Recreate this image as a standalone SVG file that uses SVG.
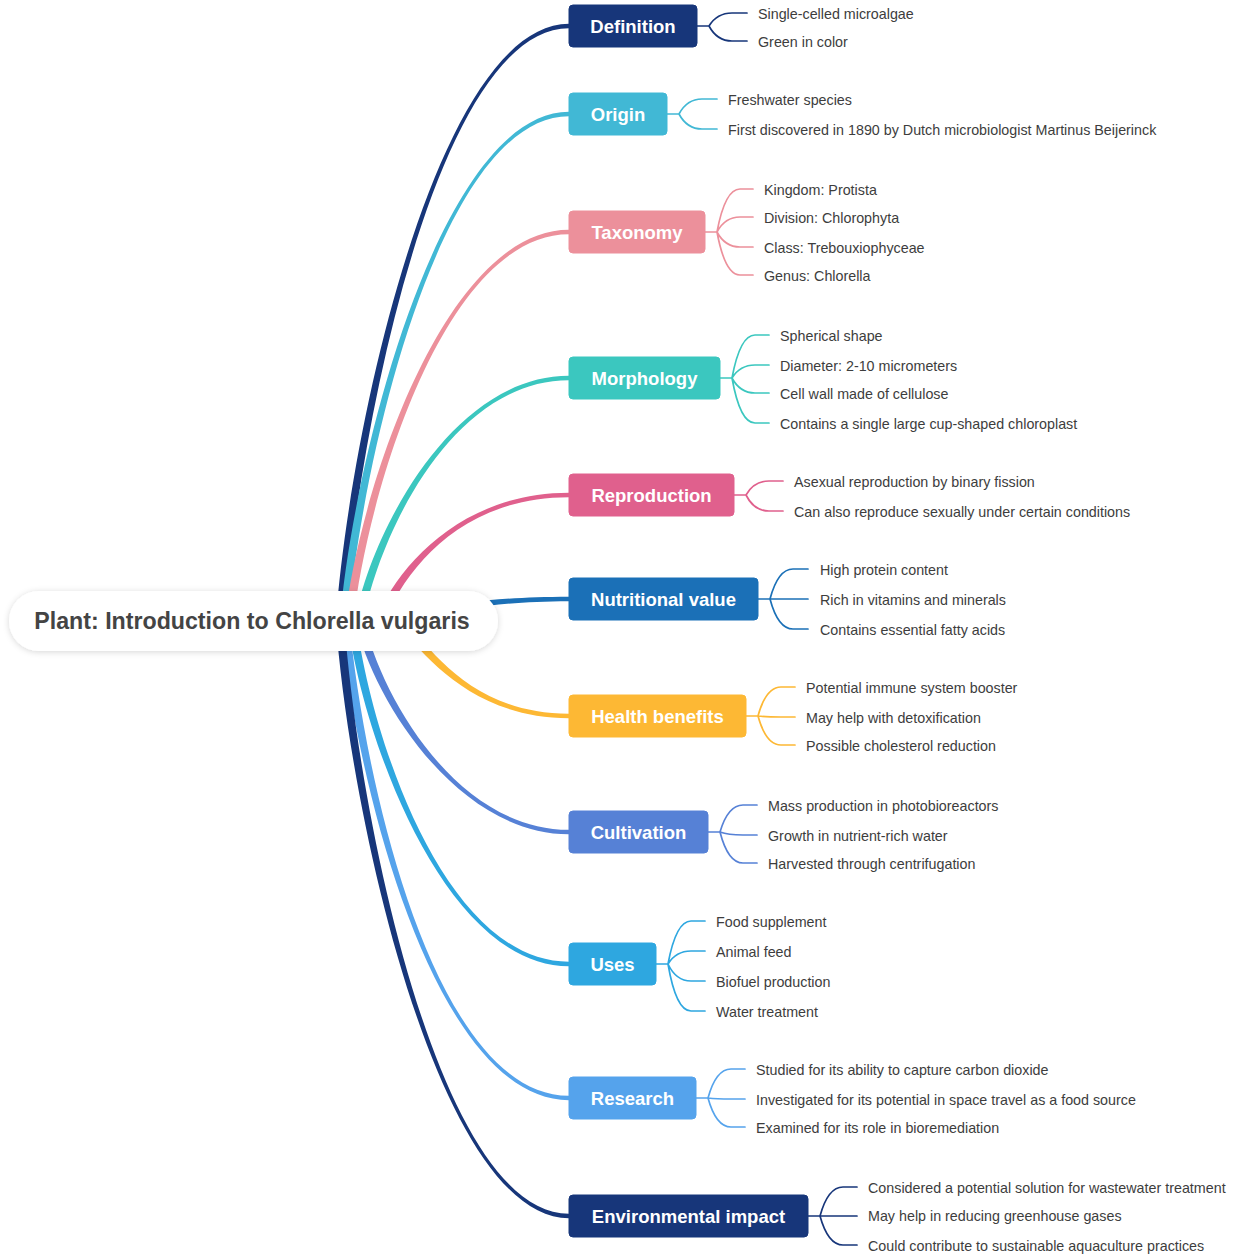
<svg xmlns="http://www.w3.org/2000/svg" width="1240" height="1256" viewBox="0 0 1240 1256">
<defs>
<style>
text{font-family:"Liberation Sans",Arial,Helvetica,sans-serif}
.leaf{font-size:14.3px;fill:#3d3d3d}
.lbl{font-size:18.5px;font-weight:bold;fill:#fff;text-anchor:middle}
.sub{fill:none;stroke-width:1.7;stroke-linecap:round}
.c1{fill:#17367a;stroke:#17367a}.c2{fill:#41b8d5;stroke:#41b8d5}.c3{fill:#ec909b;stroke:#ec909b}
.c4{fill:#3bc7bf;stroke:#3bc7bf}.c5{fill:#e0608d;stroke:#e0608d}.c6{fill:#1b70b7;stroke:#1b70b7}
.c7{fill:#fdb834;stroke:#fdb834}.c8{fill:#5681d6;stroke:#5681d6}.c9{fill:#2ea7e0;stroke:#2ea7e0}
.c10{fill:#55a3ec;stroke:#55a3ec}
.main path{stroke:none}
.sub.c1,.sub.c2,.sub.c3,.sub.c4,.sub.c5,.sub.c6,.sub.c7,.sub.c8,.sub.c9,.sub.c10{fill:none}
</style>
<filter id="sh" x="-10%" y="-40%" width="120%" height="180%">
<feDropShadow dx="0" dy="1" stdDeviation="3" flood-color="#000" flood-opacity="0.16"/>
</filter>
</defs>
<rect width="1240" height="1256" fill="#fff"/>
<g id="connectors">
<g class="main">
<path class="c1" d="M344.2 621.3C359.2 419.3 440 28.2 569 28.2L569 23.8C440 23.8 350.8 418.7 335.8 620.7Z"/>
<path class="c2" d="M348.2 621.4C363.2 449.4 443 116.2 569 116.2L569 111.8C443 111.8 354.8 448.6 339.8 620.6Z"/>
<path class="c3" d="M353.2 621.5C368.2 489.5 446 234.2 569 234.2L569 229.8C446 229.8 359.8 488.5 344.8 620.5Z"/>
<path class="c4" d="M363.1 621.75C378.1 538.75 450 380.2 569 380.2L569 375.8C450 375.8 369.9 537.25 354.9 620.25Z"/>
<path class="c5" d="M383.9 622.5C403.9 571.5 460 497.2 569 497.2L569 492.8C460 492.8 396.1 568.5 376.1 619.5Z"/>
<path class="c6" d="M380.6 625.2C420.6 619.2 470 601.2 569 601.2L569 596.8C470 596.8 419.4 610.8 379.4 616.8Z"/>
<path class="c7" d="M396.9 623.9C421.9 650.9 470 718.2 569 718.2L569 713.8C470 713.8 428.1 645.2 403.1 618.2Z"/>
<path class="c8" d="M355.9 621.9C370.9 693.9 455 834.2 569 834.2L569 829.8C455 829.8 379.1 692.1 364.1 620.1Z"/>
<path class="c9" d="M347.8 621.5C362.8 738.5 445 966.2 569 966.2L569 961.8C445 961.8 371.2 737.5 356.2 620.5Z"/>
<path class="c10" d="M340.8 621.4C355.8 783.4 435 1100.2 569 1100.2L569 1095.8C435 1095.8 364.2 782.6 349.2 620.6Z"/>
<path class="c1" d="M335.8 621.3C350.8 823.3 440 1218.2 569 1218.2L569 1213.8C440 1213.8 359.2 822.7 344.2 620.7Z"/>
</g>
<path class="sub c1" d="M697 26H709Q717 13 732 13H747M697 26H709Q717 41 732 41H747"/>
<path class="sub c2" d="M667 114H679Q687 99 702 99H717M667 114H679Q687 129 702 129H717"/>
<path class="sub c3" d="M705 232H717Q725 189 740 189H753M705 232H717Q725 217 740 217H753M705 232H717Q725 247 740 247H753M705 232H717Q725 275 740 275H753"/>
<path class="sub c4" d="M720 378H732Q740 335 755 335H769M720 378H732Q740 365 755 365H769M720 378H732Q740 393 755 393H769M720 378H732Q740 423 755 423H769"/>
<path class="sub c5" d="M734 495H746Q754 481 769 481H783M734 495H746Q754 511 769 511H783"/>
<path class="sub c6" d="M758 599H770Q778 569 793 569H808M758 599H808M770 599Q778 629 793 629H808"/>
<path class="sub c7" d="M746 716H758Q766 687 781 687H795M746 716H758Q766 717 781 717H795M746 716H758Q766 745 781 745H795"/>
<path class="sub c8" d="M708 832H720Q728 805 743 805H757M708 832H720Q728 835 743 835H757M708 832H720Q728 863 743 863H757"/>
<path class="sub c9" d="M656 964H668Q676 921 691 921H705M656 964H668Q676 951 691 951H705M656 964H668Q676 981 691 981H705M656 964H668Q676 1011 691 1011H705"/>
<path class="sub c10" d="M696 1098H708Q716 1069 731 1069H745M696 1098H708Q716 1099 731 1099H745M696 1098H708Q716 1127 731 1127H745"/>
<path class="sub c1" d="M808 1216H820Q828 1187 843 1187H857M808 1216H857M820 1216Q828 1245 843 1245H857"/>
</g>
<g id="root">
<rect x="9" y="591" width="489" height="60" rx="30" fill="#fff" filter="url(#sh)"/>
<text x="252" y="629" text-anchor="middle" font-size="23.2" font-weight="bold" fill="#444">Plant: Introduction to Chlorella vulgaris</text>
</g>
<g id="definition">
<rect class="c1" x="569" y="5" width="128" height="42" rx="4"/>
<text class="lbl" x="633" y="32.5">Definition</text>
<g id="definition-1"><text class="leaf" x="758" y="19">Single-celled microalgae</text></g>
<g id="definition-2"><text class="leaf" x="758" y="47">Green in color</text></g>
</g>
<g id="origin">
<rect class="c2" x="569" y="93" width="98" height="42" rx="4"/>
<text class="lbl" x="618" y="120.5">Origin</text>
<g id="origin-1"><text class="leaf" x="728" y="105">Freshwater species</text></g>
<g id="origin-2"><text class="leaf" x="728" y="135">First discovered in 1890 by Dutch microbiologist Martinus Beijerinck</text></g>
</g>
<g id="taxonomy">
<rect class="c3" x="569" y="211" width="136" height="42" rx="4"/>
<text class="lbl" x="637" y="238.5">Taxonomy</text>
<g id="taxonomy-1"><text class="leaf" x="764" y="195">Kingdom: Protista</text></g>
<g id="taxonomy-2"><text class="leaf" x="764" y="223">Division: Chlorophyta</text></g>
<g id="taxonomy-3"><text class="leaf" x="764" y="253">Class: Trebouxiophyceae</text></g>
<g id="taxonomy-4"><text class="leaf" x="764" y="281">Genus: Chlorella</text></g>
</g>
<g id="morphology">
<rect class="c4" x="569" y="357" width="151" height="42" rx="4"/>
<text class="lbl" x="644.5" y="384.5">Morphology</text>
<g id="morphology-1"><text class="leaf" x="780" y="341">Spherical shape</text></g>
<g id="morphology-2"><text class="leaf" x="780" y="371">Diameter: 2-10 micrometers</text></g>
<g id="morphology-3"><text class="leaf" x="780" y="399">Cell wall made of cellulose</text></g>
<g id="morphology-4"><text class="leaf" x="780" y="429">Contains a single large cup-shaped chloroplast</text></g>
</g>
<g id="reproduction">
<rect class="c5" x="569" y="474" width="165" height="42" rx="4"/>
<text class="lbl" x="651.5" y="501.5">Reproduction</text>
<g id="reproduction-1"><text class="leaf" x="794" y="487">Asexual reproduction by binary fission</text></g>
<g id="reproduction-2"><text class="leaf" x="794" y="517">Can also reproduce sexually under certain conditions</text></g>
</g>
<g id="nutritional-value">
<rect class="c6" x="569" y="578" width="189" height="42" rx="4"/>
<text class="lbl" x="663.5" y="605.5">Nutritional value</text>
<g id="nutritional-value-1"><text class="leaf" x="820" y="575">High protein content</text></g>
<g id="nutritional-value-2"><text class="leaf" x="820" y="605">Rich in vitamins and minerals</text></g>
<g id="nutritional-value-3"><text class="leaf" x="820" y="635">Contains essential fatty acids</text></g>
</g>
<g id="health-benefits">
<rect class="c7" x="569" y="695" width="177" height="42" rx="4"/>
<text class="lbl" x="657.5" y="722.5">Health benefits</text>
<g id="health-benefits-1"><text class="leaf" x="806" y="693">Potential immune system booster</text></g>
<g id="health-benefits-2"><text class="leaf" x="806" y="723">May help with detoxification</text></g>
<g id="health-benefits-3"><text class="leaf" x="806" y="751">Possible cholesterol reduction</text></g>
</g>
<g id="cultivation">
<rect class="c8" x="569" y="811" width="139" height="42" rx="4"/>
<text class="lbl" x="638.5" y="838.5">Cultivation</text>
<g id="cultivation-1"><text class="leaf" x="768" y="811">Mass production in photobioreactors</text></g>
<g id="cultivation-2"><text class="leaf" x="768" y="841">Growth in nutrient-rich water</text></g>
<g id="cultivation-3"><text class="leaf" x="768" y="869">Harvested through centrifugation</text></g>
</g>
<g id="uses">
<rect class="c9" x="569" y="943" width="87" height="42" rx="4"/>
<text class="lbl" x="612.5" y="970.5">Uses</text>
<g id="uses-1"><text class="leaf" x="716" y="927">Food supplement</text></g>
<g id="uses-2"><text class="leaf" x="716" y="957">Animal feed</text></g>
<g id="uses-3"><text class="leaf" x="716" y="987">Biofuel production</text></g>
<g id="uses-4"><text class="leaf" x="716" y="1017">Water treatment</text></g>
</g>
<g id="research">
<rect class="c10" x="569" y="1077" width="127" height="42" rx="4"/>
<text class="lbl" x="632.5" y="1104.5">Research</text>
<g id="research-1"><text class="leaf" x="756" y="1075">Studied for its ability to capture carbon dioxide</text></g>
<g id="research-2"><text class="leaf" x="756" y="1105">Investigated for its potential in space travel as a food source</text></g>
<g id="research-3"><text class="leaf" x="756" y="1133">Examined for its role in bioremediation</text></g>
</g>
<g id="environmental-impact">
<rect class="c1" x="569" y="1195" width="239" height="42" rx="4"/>
<text class="lbl" x="688.5" y="1222.5">Environmental impact</text>
<g id="environmental-impact-1"><text class="leaf" x="868" y="1193">Considered a potential solution for wastewater treatment</text></g>
<g id="environmental-impact-2"><text class="leaf" x="868" y="1221">May help in reducing greenhouse gases</text></g>
<g id="environmental-impact-3"><text class="leaf" x="868" y="1251">Could contribute to sustainable aquaculture practices</text></g>
</g>
</svg>
